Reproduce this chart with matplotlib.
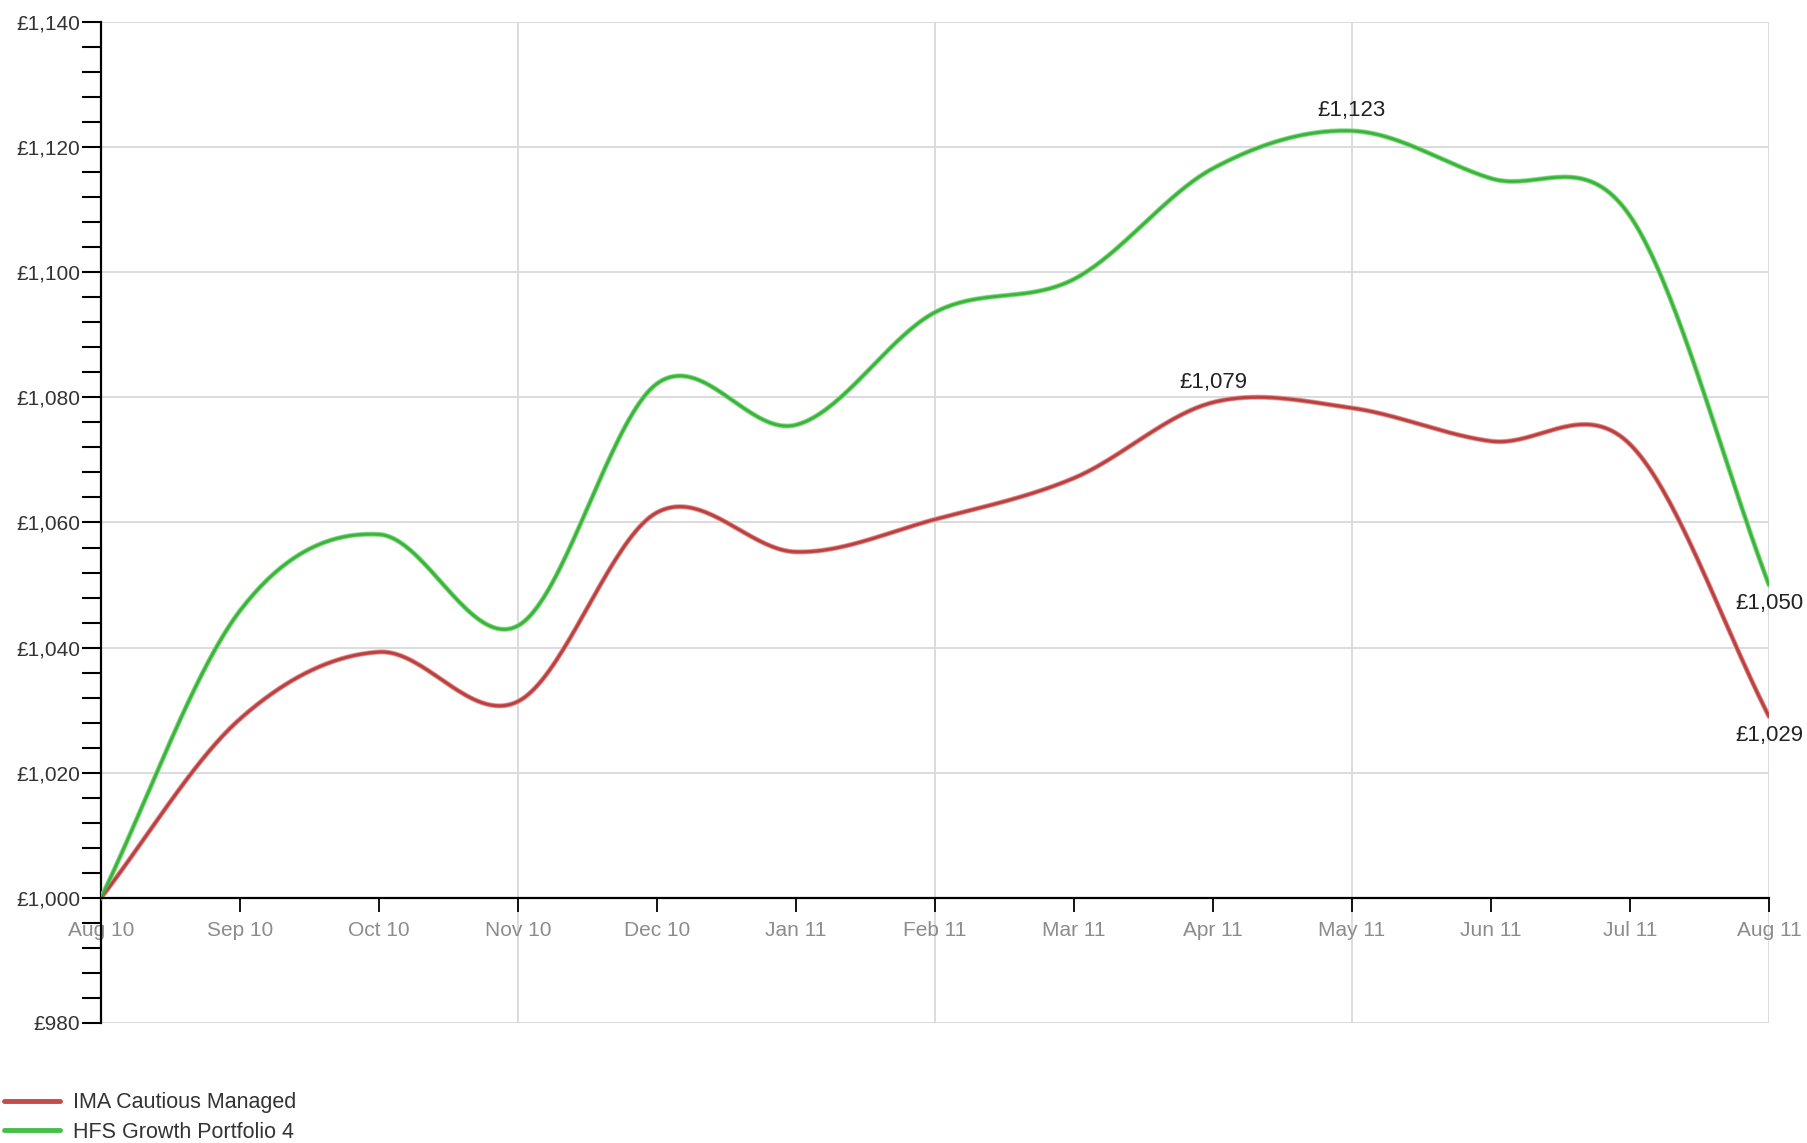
import numpy as np
import matplotlib
matplotlib.use("Agg")
import matplotlib.pyplot as plt
from matplotlib.ticker import MultipleLocator, FuncFormatter

months = ["Aug 10", "Sep 10", "Oct 10", "Nov 10", "Dec 10", "Jan 11", "Feb 11",
          "Mar 11", "Apr 11", "May 11", "Jun 11", "Jul 11", "Aug 11"]
ima_cautious = [1000, 1028.6, 1039.3, 1031.4, 1061.6, 1055.3, 1060.5,
                1067.1, 1079.2, 1078.3, 1073.0, 1072.5, 1029.0]
hfs_growth = [1000, 1045.9, 1058.1, 1043.5, 1082.2, 1075.6, 1093.6,
              1098.9, 1116.6, 1122.6, 1115.0, 1109.0, 1050.0]
series_names = ["IMA Cautious Managed", "HFS Growth Portfolio 4"]


def catmull_rom(x, y, n=40):
    x = np.asarray(x, float)
    y = np.asarray(y, float)
    m = len(x)
    tang = np.zeros(m)
    for i in range(m):
        lo = max(i - 1, 0)
        hi = min(i + 1, m - 1)
        tang[i] = (y[hi] - y[lo]) / (x[hi] - x[lo])
    xs, ys = [], []
    for i in range(m - 1):
        h = x[i + 1] - x[i]
        t = np.linspace(0, 1, n, endpoint=(i == m - 2))
        h00 = 2 * t ** 3 - 3 * t ** 2 + 1
        h10 = t ** 3 - 2 * t ** 2 + t
        h01 = -2 * t ** 3 + 3 * t ** 2
        h11 = t ** 3 - t ** 2
        xs.append(x[i] + t * h)
        ys.append(h00 * y[i] + h10 * h * tang[i] + h01 * y[i + 1] + h11 * h * tang[i + 1])
    return np.concatenate(xs), np.concatenate(ys)


W, H = 1807, 1143
fig = plt.figure(figsize=(W / 100, H / 100), dpi=100)
ax = fig.add_axes([101 / W, 1 - 1023 / H, (1769 - 101) / W, (1023 - 22) / H])

x = np.arange(len(months))
ax.set_xlim(0, len(months) - 1)
ax.set_ylim(980, 1140)

# grid
grid_c = "#d9d9d9"
for yv in range(980, 1141, 20):
    ax.axhline(yv, color=grid_c, lw=1.3, zorder=0)
for xi in range(0, len(months), 3):
    ax.axvline(xi, color=grid_c, lw=1.3, zorder=0)

styles = [("#c54a4a", "#e39a9a", "#8f2a2a"), ("#45bf45", "#93dd93", "#2a8a2a")]
lines = []
for vals, name, (core, edge, dark) in zip([ima_cautious, hfs_growth], series_names, styles):
    sx, sy = catmull_rom(x, vals)
    ax.plot(sx, sy, color=edge, lw=3.6, solid_capstyle="round", zorder=3)
    ln, = ax.plot(sx, sy, color=core, lw=2.4, solid_capstyle="round", zorder=4, label=name)
    ax.plot(sx, sy, color=dark, lw=0.6, alpha=0.5, zorder=5)
    lines.append(ln)

# annotations: max and last
ann_font = dict(family=["Liberation Sans", "DejaVu Sans"], fontsize=16, color="#222222")
for vals in [ima_cautious, hfs_growth]:
    i = int(np.argmax(vals))
    ax.annotate("£{:,.0f}".format(vals[i]), (x[i], vals[i]), xytext=(0, 7),
                textcoords="offset points", ha="center", va="bottom", **ann_font)
    ax.annotate("£{:,.0f}".format(vals[-1]), (x[-1], vals[-1]), xytext=(0, -6),
                textcoords="offset points", ha="center", va="top", **ann_font)

# spines
for s in ["top", "right"]:
    ax.spines[s].set_visible(False)
ax.spines["bottom"].set_position(("data", 1000))
ax.spines["bottom"].set_linewidth(1.6)
ax.spines["left"].set_linewidth(1.6)
ax.spines["bottom"].set_zorder(6)

ax.set_xticks(x)
ax.set_xticklabels(months)
ax.tick_params(axis="x", direction="out", length=10, width=1.3, pad=7,
               labelsize=15, labelcolor="#8c8c8c")
for lab in ax.get_xticklabels():
    lab.set_family(["Liberation Sans", "DejaVu Sans"])

ax.yaxis.set_major_locator(MultipleLocator(20))
ax.yaxis.set_minor_locator(MultipleLocator(4))
ax.yaxis.set_major_formatter(FuncFormatter(lambda v, p: "£{:,.0f}".format(v)))
ax.tick_params(axis="y", which="both", direction="out", length=14, width=1.5,
               labelsize=15, labelcolor="#333333", pad=1)
for lab in ax.get_yticklabels():
    lab.set_family(["Liberation Sans", "DejaVu Sans"])

leg = fig.legend(handles=lines, labels=series_names, loc="upper left",
                 bbox_to_anchor=(0.0, 1 - 1088 / H), frameon=False,
                 handlelength=2.6, handletextpad=0.6, labelspacing=0.4,
                 borderaxespad=0.0, borderpad=0.2,
                 prop=dict(family=["Liberation Sans", "DejaVu Sans"], size=15.5))
for t in leg.get_texts():
    t.set_color("#333333")
for l in leg.get_lines():
    l.set_linewidth(3.5)

fig.savefig("out.png", dpi=100)
